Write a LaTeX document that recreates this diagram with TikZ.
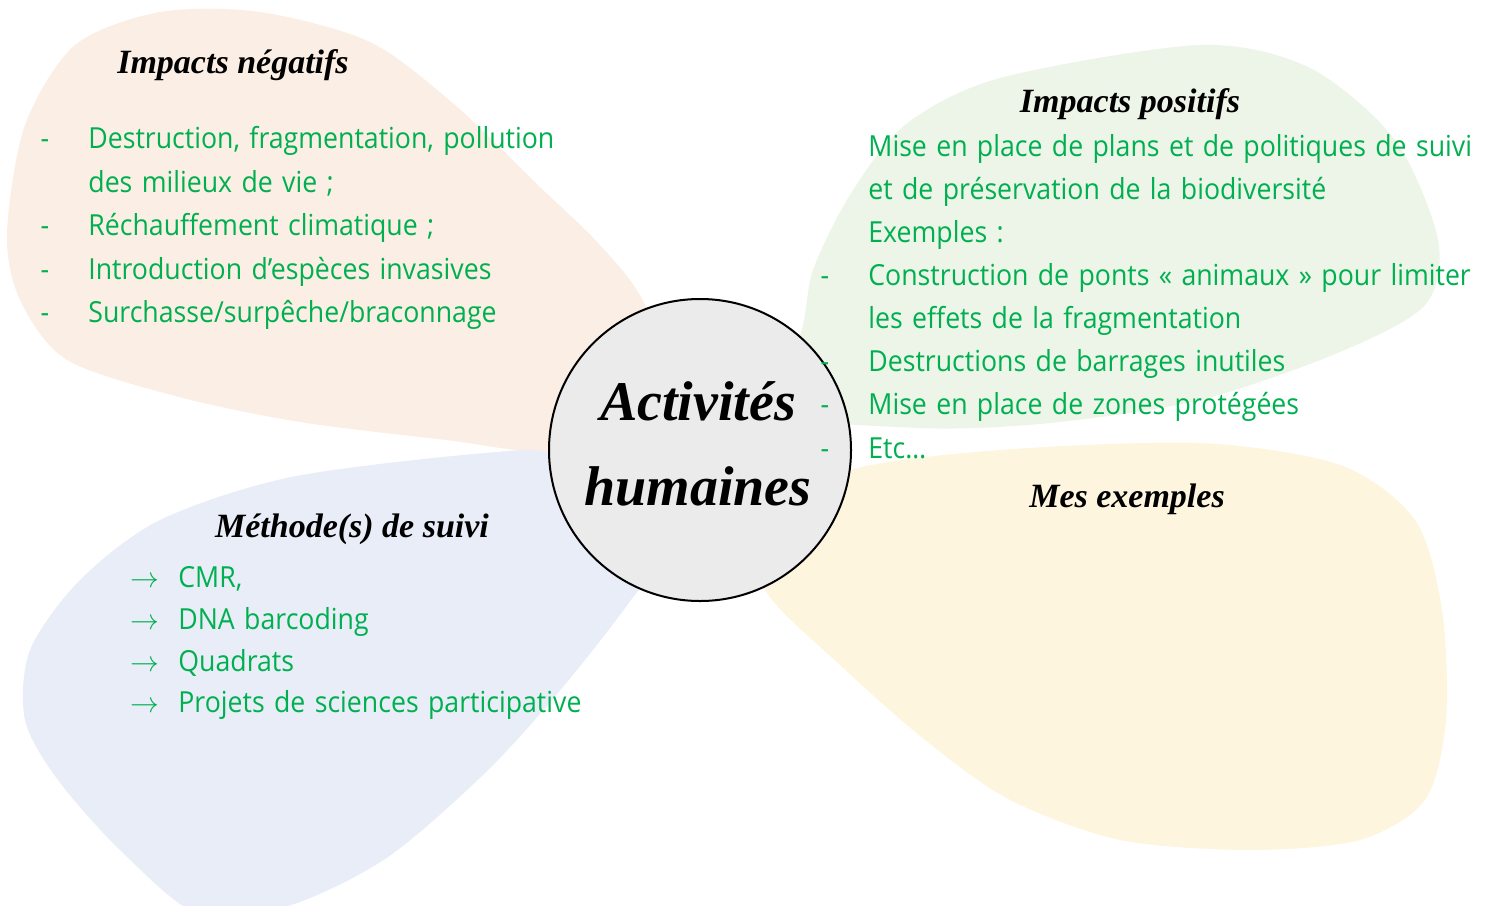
\documentclass[tikz,border=0pt]{standalone}
\usepackage{fontspec}
\setmainfont{Open Sans}[FakeStretch=0.92,WordSpace=1.35]
\newfontfamily\brush{Liberation Serif}
\usepackage{tikz}

\definecolor{vert}{HTML}{00B050}
\definecolor{peche}{HTML}{FBEEE4}
\definecolor{menthe}{HTML}{EDF4E8}
\definecolor{ciel}{HTML}{E8EDF7}
\definecolor{sable}{HTML}{FEF5DF}
\definecolor{gris}{HTML}{EBEBEB}

\begin{document}
\begin{tikzpicture}[x=0.5pt,y=-0.5pt,
  ligne/.style={anchor=base west,inner sep=0pt,text=vert,font=\fontsize{14.5}{17}\selectfont},
  puce/.style={anchor=base,inner sep=0pt,text=vert,font=\fontsize{14.5}{17}\selectfont},
  titre/.style={anchor=base,inner sep=0pt,font=\brush\bfseries\itshape\fontsize{17}{20}\selectfont},
  grand/.style={anchor=base,inner sep=0pt,font=\brush\bfseries\itshape\fontsize{28}{32}\selectfont}]
\useasboundingbox (0,0) rectangle (1509,905);
\clip (0,0) rectangle (1509,905);

% petales
\fill[peche] plot[smooth cycle] coordinates {(7,233) (25,125) (75,45) (160,12) (260,12) (370,42) (455,105) (540,187) (600,245) (645,305) (680,420) (560,452) (446,440) (300,422) (179,397) (67,360) (20,300)};
\fill[ciel] plot[smooth cycle] coordinates {(560,455) (485,453) (291,477) (160,520) (80,580) (30,650) (25,720) (58,780) (120,850) (200,915) (291,905) (388,857) (485,773) (558,693) (631,600) (690,510)};
\fill[menthe] plot[smooth cycle] coordinates {(800,335) (813,270) (850,195) (905,125) (1000,78) (1200,45) (1310,68) (1395,140) (1438,240) (1425,305) (1340,352) (1200,400) (1050,423) (920,428) (760,410)};
\fill[sable] plot[smooth cycle] coordinates {(850,470) (1000,450) (1200,443) (1340,465) (1415,520) (1442,610) (1446,720) (1425,800) (1360,840) (1250,850) (1120,840) (1010,800) (925,740) (840,665) (765,590) (760,520)};

\node[circle,draw,line width=1pt,fill=gris,minimum size=151pt,inner sep=0pt] (centre) at (700,450) {};
\node[grand] (act) at (698,420) {Activités};
\node[grand] (hum) at (698,505) {humaines};

% impacts negatifs
\node[titre] (neg) at (233,73) {Impacts négatifs};
\node[puce] (n1) at (45,148) {-};
\node[ligne] (l1) at (88,148) {Destruction, fragmentation, pollution};
\node[ligne] (l2) at (88,192) {des milieux de vie ;};
\node[puce] (n3) at (45,235) {-};
\node[ligne] (l3) at (88,235) {Réchauffement climatique ;};
\node[puce] (n4) at (45,279) {-};
\node[ligne] (l4) at (88,279) {Introduction d'espèces invasives};
\node[puce] (n5) at (45,322) {-};
\node[ligne] (l5) at (88,322) {Surchasse/surpêche/braconnage};

% impacts positifs
\node[titre] (pos) at (1130,112) {Impacts positifs};
\node[ligne] (p1) at (868,156) {Mise en place de plans et de politiques de suivi};
\node[ligne] (p2) at (868,199) {et de préservation de la biodiversité};
\node[ligne] (p3) at (868,242) {Exemples :};
\node[puce] (q4) at (825,285) {-};
\node[ligne] (p4) at (868,285) {Construction de ponts « animaux » pour limiter};
\node[ligne] (p5) at (868,328) {les effets de la fragmentation};
\node[puce] (q6) at (825,371) {-};
\node[ligne] (p6) at (868,371) {Destructions de barrages inutiles};
\node[puce] (q7) at (825,414) {-};
\node[ligne] (p7) at (868,414) {Mise en place de zones protégées};
\node[puce] (q8) at (825,458) {-};
\node[ligne] (p8) at (868,458) {Etc…};

% exemples
\node[titre] (ex) at (1127,507) {Mes exemples};

% methodes
\node[titre] (met) at (352,537) {Méthode(s) de suivi};
\node[puce] (f1) at (145,587) {$\rightarrow$};
\node[ligne] (m1) at (178,587) {CMR,};
\node[puce] (f2) at (145,629) {$\rightarrow$};
\node[ligne] (m2) at (178,629) {DNA barcoding};
\node[puce] (f3) at (145,671) {$\rightarrow$};
\node[ligne] (m3) at (178,671) {Quadrats};
\node[puce] (f4) at (145,712) {$\rightarrow$};
\node[ligne] (m4) at (178,712) {Projets de sciences participative};
\end{tikzpicture}
\end{document}
